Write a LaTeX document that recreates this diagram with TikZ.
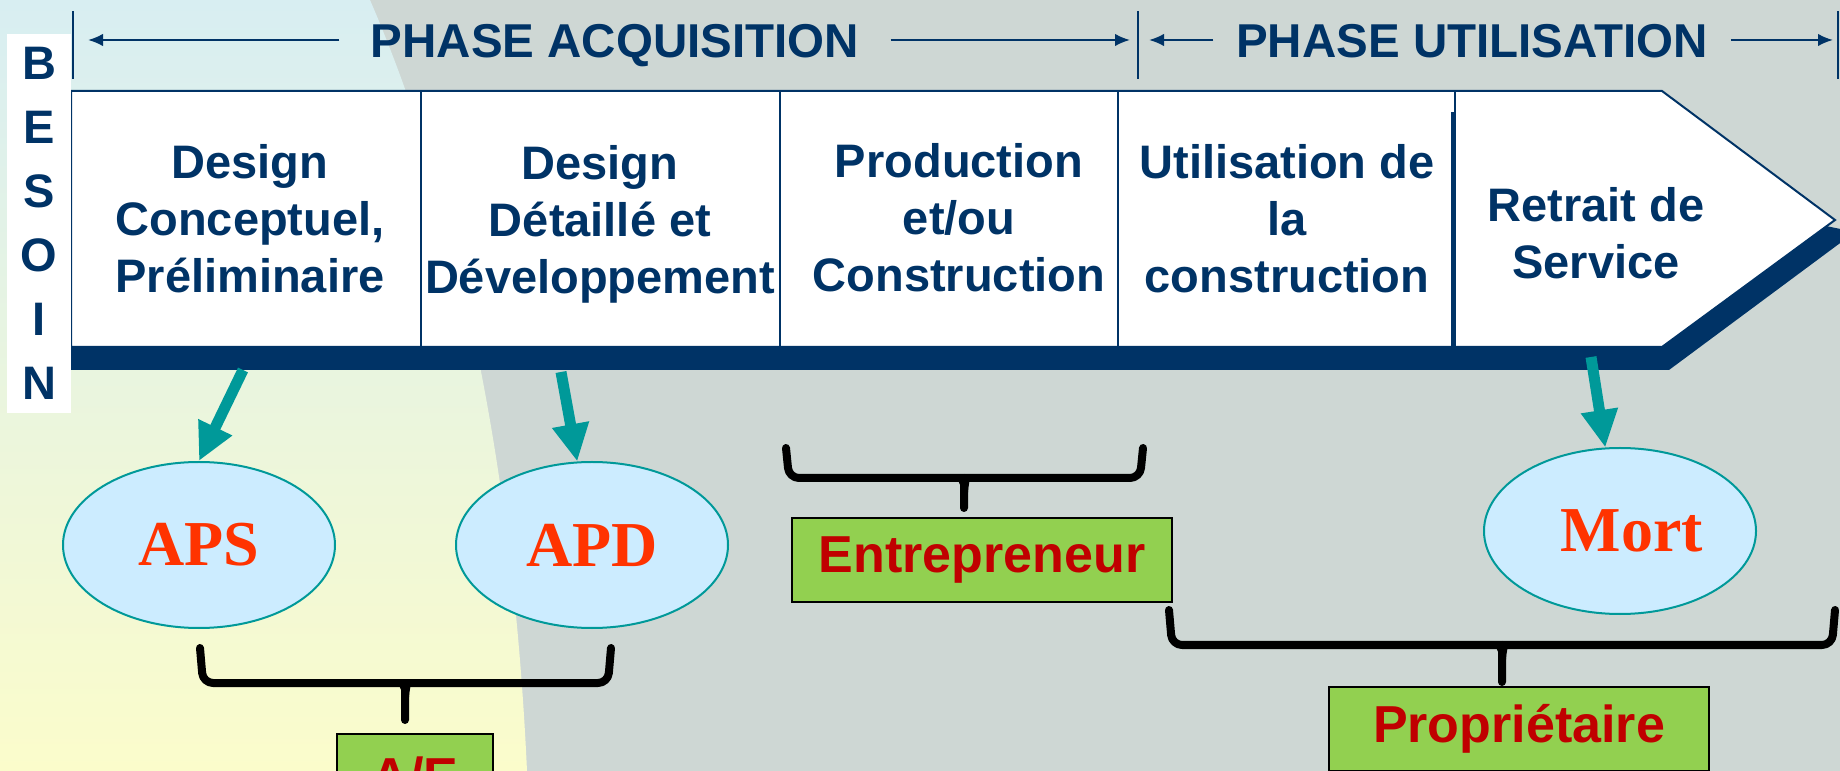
\documentclass[tikz,border=0pt]{standalone}
\usepackage{fontspec}
\setmainfont{Liberation Sans}
\newfontfamily\timesfont{Liberation Serif}
\usetikzlibrary{shapes.geometric,arrows.meta}
\definecolor{navy}{HTML}{003366}
\definecolor{arrowteal}{HTML}{009999}
\definecolor{stagefill}{HTML}{CCECFF}
\definecolor{stagered}{HTML}{FF3300}
\definecolor{actorgreen}{HTML}{92D050}
\definecolor{actorred}{HTML}{C00000}
\definecolor{bggray}{RGB}{206,215,212}
\definecolor{bgcyan}{RGB}{216,238,242}
\definecolor{bgyellow}{RGB}{251,252,203}

\begin{document}
\begin{tikzpicture}[x=0.4pt,y=-0.4pt,
  phase/.style={text=navy,font=\fontsize{18.8}{22.8}\selectfont\bfseries,align=center},
  phasetitle/.style={text=navy,font=\fontsize{19}{22}\selectfont\bfseries,text height=14.4pt,text depth=0pt},
  spanarrow/.style={navy,line width=0.8pt,-{Latex[length=6pt,width=5pt]}},
  tickline/.style={navy,line width=0.8pt},
  stage/.style={ellipse,draw=arrowteal,line width=0.8pt,fill=stagefill,minimum width=108.8pt,minimum height=66.4pt,inner sep=0pt,text=stagered,font=\timesfont\fontsize{25.6}{28}\selectfont\bfseries},
  actor/.style={rectangle,draw=black,line width=0.8pt,fill=actorgreen,minimum width=152pt,minimum height=33.6pt,inner sep=0pt,text=actorred,font=\fontsize{20.8}{24}\selectfont\bfseries},
  link/.style={arrowteal,line width=4.4pt,-{Triangle[length=15pt,width=14pt]}},
  bracestroke/.style={line width=3.2pt,line cap=round,line join=round,rounded corners=4pt}]
\useasboundingbox (0,0) rectangle (1840,771);
\clip (0,0) rectangle (1840,771);
\fill[bggray] (0,0) rectangle (1840,771);
\shade[top color=bgcyan,bottom color=bgyellow] (0,0) -- (370,0) .. controls (435,150) and (510,400) .. (527,771) -- (0,771) -- cycle;

\fill[navy] (71,200) -- (1700,200) -- (1855,232) -- (1669,370) -- (71,370) -- cycle;
\filldraw[fill=white,draw=navy,line width=0.8pt] (71,347) -- (71,91) -- (1662,91) -- (1835,220) -- (1662,347) -- cycle;
\foreach \x in {421,780,1118}
  \draw[navy,line width=0.8pt] (\x,91) -- (\x,347);
\draw[navy,line width=0.8pt] (1455,91) -- (1455,112);
\draw[navy,line width=2pt] (1453,112) -- (1453,347);

\node[phase] (conc) at (250,219) {Design\\Conceptuel,\\Préliminaire};
\node[phase] (detail) at (600,224) {Design\\Détaillé et\\Développement};
\node[phase] (prod) at (959,218) {Production\\et/ou\\Construction};
\node[phase] (util) at (1287,219) {Utilisation de\\la\\construction};
\node[phase] (retrait) at (1596,233) {Retrait de\\Service};

\node[fill=white,minimum width=25.6pt,minimum height=151.6pt,inner sep=0pt,text=navy,align=center,
  font=\fontsize{18.8}{25.6}\selectfont\bfseries] (besoin) at (39,223.5) {B\\E\\S\\O\\I\\N};

\foreach \x in {73,1138,1838}
  \draw[tickline] (\x,11) -- (\x,79);
\node[phasetitle,inner xsep=12.4pt] (acq) at (615,40) {PHASE ACQUISITION};
\node[phasetitle,inner xsep=9pt] (utl) at (1472,40) {PHASE UTILISATION};
\coordinate (acqL) at (88,40);
\coordinate (acqR) at (1130,40);
\coordinate (utlL) at (1149,40);
\coordinate (utlR) at (1833,40);
\draw[spanarrow] (acq.west) -- (acqL);
\draw[spanarrow] (acq.east) -- (acqR);
\draw[spanarrow] (utl.west) -- (utlL);
\draw[spanarrow] (utl.east) -- (utlR);

\node[stage] (aps) at (199,545) {APS};
\node[stage] (apd) at (592,545) {APD};
\node[stage] (mort) at (1620,531) {\hspace*{9.6pt}Mort};

\coordinate (s1) at (243,370);
\coordinate (s2) at (561,372);
\coordinate (s3) at (1591,357);
\draw[link] (s1) -- (aps.north);
\draw[link] (s2) -- (apd.100);
\draw[link] (s3) -- (mort.100);

\node[actor] (entre) at (982,560) {Entrepreneur};
\node[actor] (proprio) at (1519,729) {Propriétaire};
\node[actor,minimum width=62.4pt] (ae) at (415,776) {A/E};

\draw[bracestroke] (200,648) -- (203,683) -- (395,683) to[out=0,in=90] (405,697) -- (405,720);
\draw[bracestroke] (611,648) -- (608,683) -- (415,683) to[out=180,in=90] (405,697);
\draw[bracestroke] (786,448) -- (789,478) -- (954,478) to[out=0,in=90] (964,492) -- (964,508);
\draw[bracestroke] (1143,448) -- (1140,478) -- (974,478) to[out=180,in=90] (964,492);
\draw[bracestroke] (1169,610) -- (1172,645) -- (1492,645) to[out=0,in=90] (1502,659) -- (1502,682);
\draw[bracestroke] (1835,610) -- (1832,645) -- (1512,645) to[out=180,in=90] (1502,659);
\end{tikzpicture}
\end{document}
